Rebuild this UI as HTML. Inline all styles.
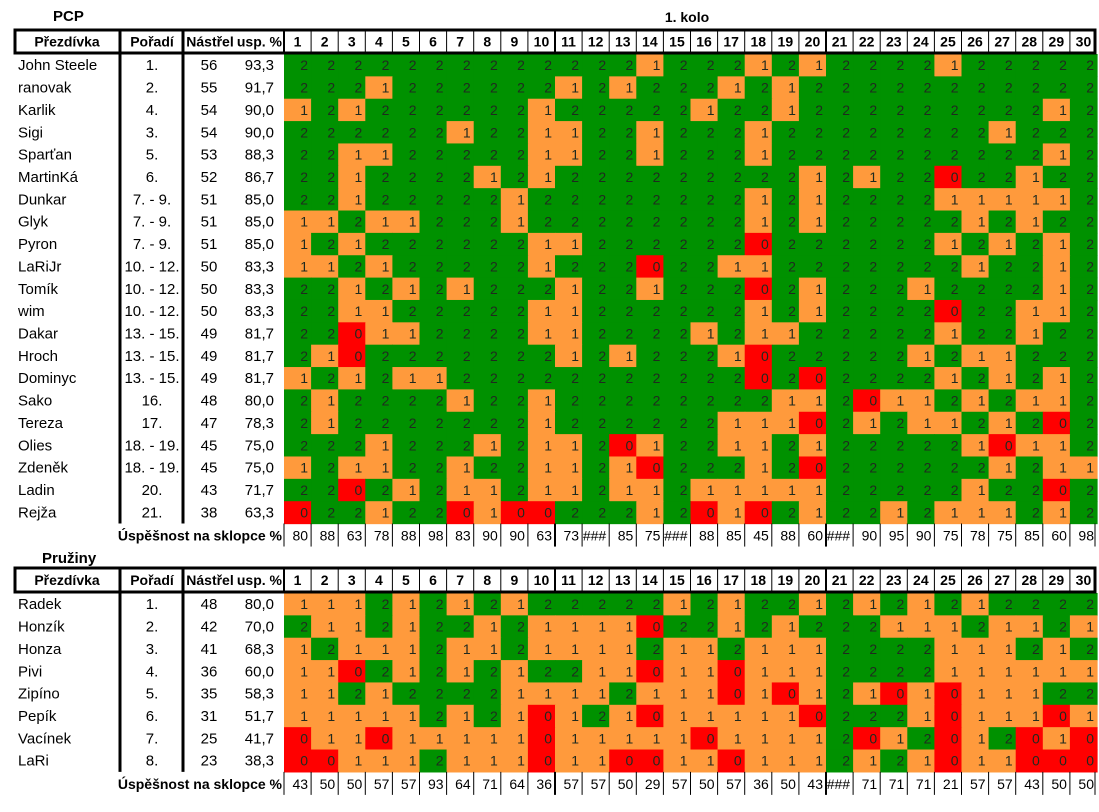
<!DOCTYPE html>
<html><head><meta charset="utf-8">
<style>
html,body{margin:0;padding:0;background:#fff;}
svg{display:block;font-family:"Liberation Sans",Arial,sans-serif;}
</style></head>
<body>
<svg id="sheet" width="1099" height="812" viewBox="0 0 1099 812" xmlns="http://www.w3.org/2000/svg">
<text x="53" y="21" font-size="15" font-weight="bold">PCP</text>
<text x="687" y="22" font-size="14" font-weight="bold" text-anchor="middle">1. kolo</text>
<text x="42" y="563" font-size="15" font-weight="bold">Pružiny</text>
<g id="layer"></g>
</svg>
<script>
const pcpNames=["John Steele","ranovak","Karlik","Sigi","Sparťan","MartinKá","Dunkar","Glyk","Pyron","LaRiJr","Tomík","wim","Dakar","Hroch","Dominyc","Sako","Tereza","Olies","Zdeněk","Ladin","Rejža"];
const pcpRanks=["1.","2.","4.","3.","5.","6.","7. - 9.","7. - 9.","7. - 9.","10. - 12.","10. - 12.","10. - 12.","13. - 15.","13. - 15.","13. - 15.","16.","17.","18. - 19.","18. - 19.","20.","21."];
const pcpShots=[56,55,54,54,53,52,51,51,51,50,50,50,49,49,49,48,47,45,45,43,38];
const pcpPct=["93,3","91,7","90,0","90,0","88,3","86,7","85,0","85,0","85,0","83,3","83,3","83,3","81,7","81,7","81,7","80,0","78,3","75,0","75,0","71,7","63,3"];
const pcpScores=[
"222222222222212221212222122222",
"222122222212122212122222222222",
"121222222122222122122222222212",
"222222122112212221222222221222",
"221122222112212221222222222212",
"221222212122222222212122022122",
"221222221222222221212222111112",
"112112221222222221212222212122",
"121222222112222220222222121212",
"112122222122202211222222212212",
"221212122212212220212221222212",
"221122222112222221212222022112",
"220112222112222121122222122122",
"210222222212122210222221211222",
"121211222222222220202222121212",
"212222122122222222112011212112",
"212222222122222211102121121202",
"222122212112012211212222210112",
"121122122112102221202222221211",
"220212112112112111112222212202",
"022122010022212010212212111212"];
const pcpSuccess=["80","88","63","78","88","98","83","90","90","63","73","###","85","75","###","88","85","45","88","60","###","90","95","90","75","78","75","85","60","98"];

const prNames=["Radek","Honzík","Honza","Pivi","Zipíno","Pepík","Vacínek","LaRi"];
const prRanks=["1.","2.","3.","4.","5.","6.","7.","8."];
const prShots=[48,42,41,36,35,31,25,23];
const prPct=["80,0","70,0","68,3","60,0","58,3","51,7","41,7","38,3"];
const prScores=[
"111212121222221212212121212222",
"211212212111102212122211121121",
"121112112111121121112222111212",
"110212121221101101112222111111",
"112122221111211101012101011122",
"111112121012101111102221011101",
"011011111011111011112012012010",
"001112111011001101112121011000"];
const prSuccess=["43","50","50","57","57","93","64","71","64","36","57","57","50","29","57","50","57","36","50","43","###","71","71","71","21","57","57","43","50","50"];

const colors=["#ff0000","#ff9a3c","#009100"];
const NS="http://www.w3.org/2000/svg";
const layer=document.getElementById('layer');
const X0=284, CW=27.1, RH=22.36;
function colX(i){return X0+i*CW;}
function mk(tag,attrs,parent){const e=document.createElementNS(NS,tag);for(const k in attrs)e.setAttribute(k,attrs[k]);(parent||layer).appendChild(e);return e;}
function txt(s,x,y,opts,parent){const t=mk('text',Object.assign({x:x,y:y,'font-size':15},opts||{}),parent);t.textContent=s;return t;}

function table(prefix,top,bodyTop,names,ranks,shots,pcts,scores,success){
  const g=mk('g',{});
  
  
  const hTop=top, hBot=bodyTop;
  const hg=mk('g',{},g);
  
  
  const hy=(hTop+hBot)/2+5;
  const h1=txt('Přezdívka',67,hy,{'font-weight':'bold','text-anchor':'middle','font-size':14},hg);
  
  
  const h2=txt('Pořadí',152,hy,{'font-weight':'bold','text-anchor':'middle','font-size':14},hg);
  
  
  const h3=txt('Nástřel',210,hy,{'font-weight':'bold','text-anchor':'middle','font-size':14},hg);
  
  
  const h4=txt('usp. %',282,hy,{'font-weight':'bold','text-anchor':'end','font-size':14},hg);
  
  
  for(let i=0;i<30;i++){
    const t=txt(String(i+1),colX(i)+CW/2,hy,{'font-weight':'bold','text-anchor':'middle','font-size':14},hg);
    
    
    if(i>0) mk('line',{x1:colX(i),x2:colX(i),y1:hTop,y2:hBot,stroke:'#000','stroke-width':(i===10||i===20)?2:1},hg);
  }
  mk('line',{x1:colX(0),x2:colX(0),y1:hTop,y2:hBot,stroke:'#000','stroke-width':2},hg);
  const bTop=bodyTop+1;
  for(let r=0;r<names.length;r++){
    const y=bTop+r*RH, cy=y+RH/2+5;
    const rg=mk('g',{},g);
    
    
    for(let c=0;c<30;c++){
      const v=+scores[r][c];
      const cell=mk('rect',{x:colX(c),y:y,width:CW+0.6,height:RH+0.6,fill:colors[v]},rg);
      
      
      txt(String(v),colX(c)+CW-3,cy,{'text-anchor':'end','font-size':14,fill:'#1f2a1f'},rg);
    }
    const n=txt(names[r],18,cy,{},rg);
    
    
    txt(ranks[r],152,cy,{'text-anchor':'middle'},rg);
    txt(String(shots[r]),209,cy,{'text-anchor':'middle'},rg);
    txt(pcts[r],274,cy,{'text-anchor':'end'},rg);
  }
  const bBot=bTop+names.length*RH;
  mk('rect',{x:15,y:hTop,width:1080,height:hBot-hTop,fill:'none',stroke:'#000','stroke-width':3},g);
  mk('line',{x1:120,x2:120,y1:hTop,y2:bBot,stroke:'#000','stroke-width':3},g);
  mk('line',{x1:183,x2:183,y1:hTop,y2:bBot,stroke:'#000','stroke-width':3},g);
  const sg=mk('g',{},g);
  
  
  const sy=bBot+17;
  const lab=txt('Úspěšnost na sklopce  %',282,sy,{'font-weight':'bold','text-anchor':'end','font-size':14},sg);
  
  
  lab.setAttribute('xml:space','preserve');
  for(let i=0;i<30;i++){
    const t=txt(success[i],colX(i)+CW-3,sy,{'text-anchor':'end','font-size':14},sg);
    
    
    mk('line',{x1:colX(i),x2:colX(i),y1:bBot,y2:bBot+23,stroke:'#000','stroke-width':(i===10||i===20)?2:1},sg);
  }
  mk('line',{x1:colX(30)-2,x2:colX(30)-2,y1:bBot,y2:bBot+23,stroke:'#000','stroke-width':1},sg);
}
table('pcp',30,53,pcpNames,pcpRanks,pcpShots,pcpPct,pcpScores,pcpSuccess);
table('pruziny',568,592,prNames,prRanks,prShots,prPct,prScores,prSuccess);
</script>
</body></html>
